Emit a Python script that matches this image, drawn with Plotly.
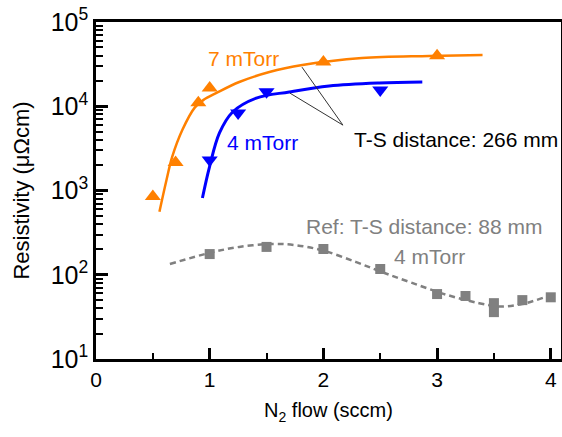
import plotly.graph_objects as go

# ---- data ----
# measured points
x_7mt = [0.5, 0.7, 0.9, 1.0, 2.0, 3.0]
rho_7mt = [850, 2150, 11000, 16500, 33500, 39700]
x_4mt = [1.0, 1.25, 1.5, 2.5]
rho_4mt = [2300, 8300, 14900, 15600]
x_ref = [1.0, 1.5, 2.0, 2.5, 3.0, 3.25, 3.5, 3.5, 3.75, 4.0]
rho_ref = [176, 214, 202, 117, 59, 56, 46, 36, 50, 54]

# fitted guide curves
fit7_x = [0.558, 0.62, 0.67, 0.76, 0.87, 0.95, 1.06, 1.26, 1.525, 1.815, 2.34, 2.93, 3.40]
fit7_y = [560, 1330, 2500, 5250, 9700, 12000, 14400, 19400, 25500, 30900, 37400, 39500, 40500]
fit4_x = [0.936, 0.998, 1.086, 1.2, 1.41, 1.70, 2.05, 2.49, 2.87]
fit4_y = [815, 1900, 4820, 8500, 12500, 14800, 17400, 18900, 19400]
fitref_x = [0.65, 1.0, 1.26, 1.55, 1.75, 1.99, 2.29, 2.52, 2.78, 3.08, 3.37, 3.55, 3.75, 4.01]
fitref_y = [134, 182, 214, 232, 225, 195, 141, 107, 80, 58, 46, 42, 45, 58]

y_tickvals = [10, 100, 1000, 10000, 100000]
y_ticktext = ["10<sup>1</sup>", "10<sup>2</sup>", "10<sup>3</sup>", "10<sup>4</sup>", "10<sup>5</sup>"]
x_tickvals = [0, 1, 2, 3, 4]

ORANGE = "#FF8000"
BLUE = "#0000FF"
GRAY = "#808080"
FONT = "Liberation Sans, Arial, sans-serif"

fig = go.Figure()

fig.add_trace(go.Scatter(x=fit7_x, y=fit7_y, mode="lines",
                         line=dict(color=ORANGE, width=2.5, shape="spline"), hoverinfo="skip"))
fig.add_trace(go.Scatter(x=fit4_x, y=fit4_y, mode="lines",
                         line=dict(color=BLUE, width=3, shape="spline"), hoverinfo="skip"))
fig.add_trace(go.Scatter(x=fitref_x, y=fitref_y, mode="lines",
                         line=dict(color=GRAY, width=2.5, shape="spline", dash="6px,4px"), hoverinfo="skip"))

fig.add_trace(go.Scatter(x=x_7mt, y=rho_7mt, mode="markers",
                         marker=dict(symbol="triangle-up", size=14, color=ORANGE)))
fig.add_trace(go.Scatter(x=x_4mt, y=rho_4mt, mode="markers",
                         marker=dict(symbol="triangle-down", size=14, color=BLUE)))
fig.add_trace(go.Scatter(x=x_ref, y=rho_ref, mode="markers",
                         marker=dict(symbol="square", size=10, color=GRAY)))

fig.update_layout(
    width=562, height=437,
    margin=dict(l=96, r=1, t=22, b=78, autoexpand=False),
    plot_bgcolor="white", paper_bgcolor="white",
    showlegend=False,
    font=dict(family=FONT, color="black"),
)

fig.update_xaxes(
    automargin=False,
    range=[0, 4.09], tickvals=x_tickvals, ticktext=[str(v) for v in x_tickvals],
    ticks="inside", ticklen=11, tickwidth=2.5, tickcolor="black",
    minor=dict(dtick=0.5, ticks="inside", ticklen=6, tickwidth=2, tickcolor="black", showgrid=False),
    showline=True, linewidth=2.5, linecolor="black", mirror=True,
    showgrid=False, zeroline=False,
    tickfont=dict(size=21, family=FONT),
    title=dict(text="N<sub>2</sub> flow (sccm)", font=dict(size=20, family=FONT), standoff=14),
)
fig.update_yaxes(
    automargin=False,
    type="log", range=[1, 5], tickvals=y_tickvals, ticktext=y_ticktext,
    ticks="inside", ticklen=12, tickwidth=2.5, tickcolor="black",
    minor=dict(dtick="D1", ticks="inside", ticklen=7, tickwidth=2, tickcolor="black", showgrid=False),
    showline=True, linewidth=2.5, linecolor="black", mirror=True,
    showgrid=False, zeroline=False,
    tickfont=dict(size=25, family=FONT),
    title=dict(text="Resistivity (μΩcm)", font=dict(size=22, family=FONT), standoff=16),
)

# annotations (paper coordinates)
def ann(text, x, y, color, xanchor="center"):
    fig.add_annotation(text=text, x=x, y=y, xref="paper", yref="paper", showarrow=False,
                       xanchor=xanchor, yanchor="middle", font=dict(size=21, color=color, family=FONT))

ann("7 mTorr", 0.317, 0.892, ORANGE)
ann("4 mTorr", 0.358, 0.643, BLUE)
ann("T-S distance: 266 mm", 0.551, 0.650, "black", xanchor="left")
ann("Ref: T-S distance: 88 mm", 0.7075, 0.394, GRAY)
ann("4 mTorr", 0.718, 0.305, GRAY)

for (x1, y1) in [(0.443, 0.866), (0.417, 0.789)]:
    fig.add_shape(type="line", xref="paper", yref="paper", x0=0.531, y0=0.694, x1=x1, y1=y1,
                  line=dict(color="#333333", width=1))

fig.write_html("out.html", config={"displayModeBar": False},
               post_script="document.body.style.margin='0';document.body.style.padding='0';"
                           "document.body.style.overflow='hidden';")
